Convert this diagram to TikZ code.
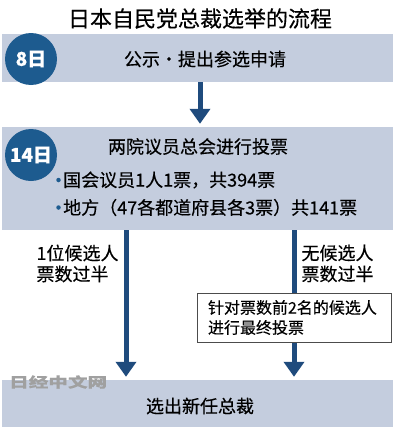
\documentclass[tikz,border=0pt]{standalone}
\usepackage{fontspec}
\setmainfont{Noto Sans CJK SC}[FakeBold=0.35]
\usetikzlibrary{arrows.meta,positioning,calc}
\definecolor{BandFill}{HTML}{C4CDDE}
\definecolor{DayBlue}{HTML}{1D5B8F}
\definecolor{FlowNavy}{HTML}{1F4B7D}
\definecolor{MarkGrey}{HTML}{A0A0A0}

\begin{document}
\begin{tikzpicture}[x=1pt,y=-1pt,
  band/.style={fill=BandFill,minimum width=391pt,inner sep=0pt},
  bandtext/.style={inner sep=0pt,font=\fontsize{18}{20}\selectfont},
  daybadge/.style={circle,fill=DayBlue,minimum size=52pt,inner sep=0pt,text=white,font=\fontsize{19}{20}\selectfont\bfseries},
  dot/.style={circle,fill=DayBlue,minimum size=4.5pt,inner sep=0pt},
  branch/.style={align=left,inner sep=0pt,font=\fontsize{18}{21}\selectfont},
  runoff/.style={draw=black!70,fill=white,line width=0.8pt,minimum width=194pt,minimum height=49pt,text width=172pt,inner xsep=11pt,align=left,font=\fontsize{16}{20}\selectfont},
  flowarrow/.style={draw=FlowNavy,line width=5pt,-{Triangle[length=15pt,width=20pt]},shorten >=3pt},
]
\useasboundingbox (0,0) rectangle (400,434);
\node[font=\fontsize{22}{24}\selectfont] (title) at (200,18.5) {日本自民党总裁选举的流程};

% step 1
\node[band,minimum height=48pt] (notice) at (197.5,58) {};
\node[daybadge] (day8) at (31,59) {8日};
\node[bandtext] (noticetext) at (205,59) {公示・提出参选申请};

% step 2
\node[band,minimum height=103pt] (vote) at (197.5,178.5) {};
\node[daybadge] (day14) at (31,155) {14日};
\node[bandtext] (votetitle) at (198,146.5) {两院议员总会进行投票};
\node[bandtext,anchor=west] (seats) at (63,180) {国会议员1人1票，共394票};
\node[bandtext,anchor=west] (prefs) at (63,207.5) {地方（47各都道府县各3票）共141票};
\node[dot] at ([xshift=-4.5pt]seats.west) {};
\node[dot] at ([xshift=-4.5pt]prefs.west) {};

% result
\node[band,minimum height=47pt] (result) at (197.5,403.5) {};
\node[bandtext] (resulttext) at (200,406) {选出新任总裁};
\node[anchor=west,inner sep=0pt,text=MarkGrey,font=\fontsize{14}{14}\selectfont\bfseries] (mark) at (9,382) {\scalebox{1.4}[1]{日经中文网}};

% arrows
\draw[flowarrow] ([xshift=2.5pt]notice.south) -- ([xshift=2.5pt]vote.north);
\draw[flowarrow] ([xshift=-71.5pt]vote.south) -- ([xshift=-71.5pt]result.north);
\draw[flowarrow] ([xshift=96.5pt]vote.south) -- ([xshift=96.5pt]result.north);

\node[branch] (majority) at (77.5,263.5) {1位候选人\\票数过半};
\node[branch] (nomajority) at (337.5,263.5) {无候选人\\票数过半};
\node[runoff] (runoffbox) at (294,317.5) {针对票数前2名的候选人\\进行最终投票};
\end{tikzpicture}
\end{document}
